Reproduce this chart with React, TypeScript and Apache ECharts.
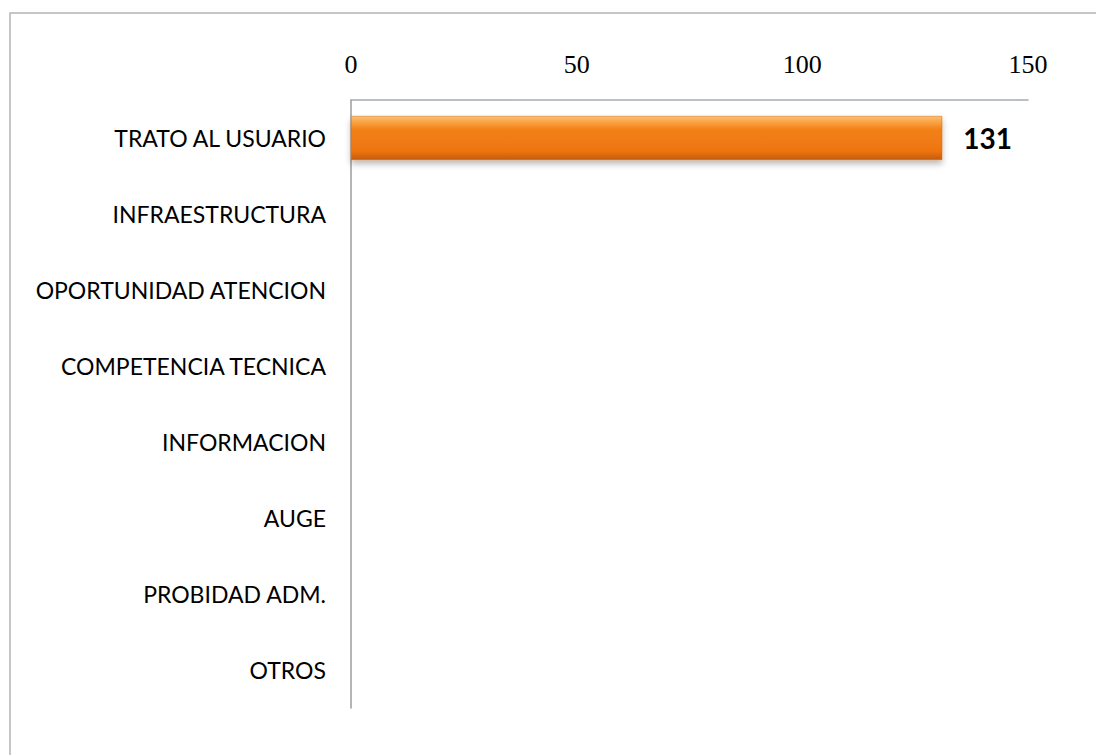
import React, { useEffect, useRef } from "react";
import * as echarts from "echarts";

const categories = [
  "TRATO AL USUARIO",
  "INFRAESTRUCTURA",
  "OPORTUNIDAD ATENCION",
  "COMPETENCIA TECNICA",
  "INFORMACION",
  "AUGE",
  "PROBIDAD ADM.",
  "OTROS",
];
const values = [131, 0, 0, 0, 0, 0, 0, 0];
const axisMin = 0;
const axisMax = 150;
const axisInterval = 50;

export default function App() {
  const ref = useRef<HTMLDivElement>(null);
  useEffect(() => {
    if (!ref.current) return;
    const chart = echarts.init(ref.current, null, { renderer: "svg" });
    chart.setOption({
      animation: false,
      backgroundColor: "#ffffff",
      graphic: [
        {
          type: "rect",
          shape: { x: 10, y: 13, width: 1100, height: 760 },
          style: { fill: "none", stroke: "#B4B4B4", lineWidth: 1.5 },
          silent: true,
        },
      ],
      grid: { left: 351, right: 68, top: 100, bottom: 47, containLabel: false },
      xAxis: {
        type: "value",
        position: "top",
        min: axisMin,
        max: axisMax,
        interval: axisInterval,
        axisLine: { show: true, lineStyle: { color: "#A3ABB3", width: 1.5 } },
        axisTick: { show: false },
        splitLine: { show: false },
        axisLabel: {
          margin: 23,
          fontFamily: "Liberation Serif",
          fontSize: 26,
          color: "#000000",
        },
      },
      yAxis: {
        type: "category",
        data: categories,
        inverse: true,
        axisLine: { show: true, lineStyle: { color: "#9C9C9C", width: 1.5 } },
        axisTick: { show: false },
        splitLine: { show: false },
        axisLabel: {
          margin: 25,
          fontFamily: "Lato",
          fontSize: 23,
          color: "#000000",
        },
      },
      series: [
        {
          type: "bar",
          data: values,
          barWidth: 44,
          itemStyle: {
            color: new echarts.graphic.LinearGradient(0, 0, 0, 1, [
              { offset: 0, color: "#FDC070" },
              { offset: 0.15, color: "#F9A040" },
              { offset: 0.3, color: "#F28118" },
              { offset: 0.8, color: "#EE7510" },
              { offset: 1, color: "#C25C0C" },
            ]),
            borderColor: "#D06A0E",
            borderWidth: 0.5,
            shadowBlur: 6,
            shadowOffsetY: 4,
            shadowColor: "rgba(0,0,0,0.28)",
          },
          label: {
            show: true,
            position: "right",
            distance: 21,
            fontFamily: "Lato",
            fontWeight: "bold",
            fontSize: 28,
            color: "#000000",
            formatter: (p: any) => (p.value ? String(p.value) : ""),
          },
        },
      ],
    });
    return () => chart.dispose();
  }, []);
  return (
    <div
      ref={ref}
      style={{ position: "absolute", left: 0, top: 0, width: 1096, height: 755 }}
    />
  );
}
